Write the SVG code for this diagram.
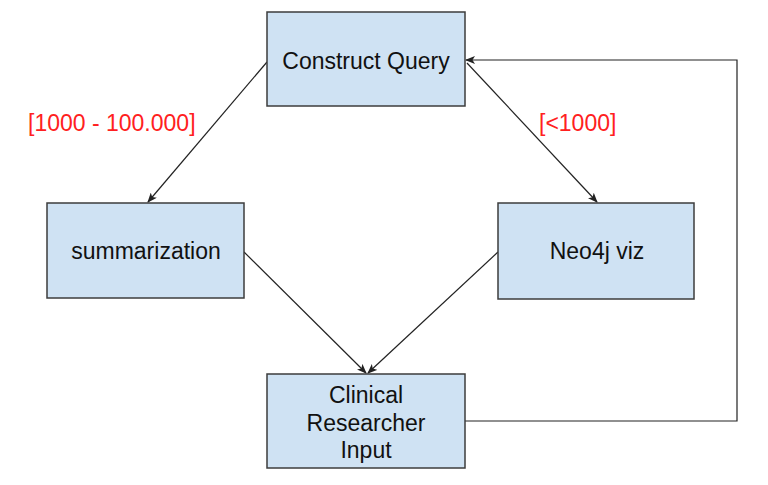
<svg xmlns="http://www.w3.org/2000/svg" width="768" height="485" viewBox="0 0 768 485">
<style>
.box{fill:#cfe2f3;stroke:#3c3c3c;stroke-width:1.5}
.t{font-family:"Liberation Sans",Arial,sans-serif;font-size:23px;fill:#111;text-anchor:middle}
.lbl{font-family:"Liberation Sans",Arial,sans-serif;font-size:23px;fill:#ff2020}
.c{fill:none;stroke:#222;stroke-width:1.2;marker-end:url(#ah)}
</style>
<defs>
<marker id="ah" markerWidth="10" markerHeight="8" refX="9" refY="4" orient="auto" markerUnits="userSpaceOnUse">
<path d="M0,0 L10,4 L0,8 L2.5,4 Z" fill="#222"/>
</marker>
</defs>
<rect width="768" height="485" fill="#fff"/>
<g id="connectors">
<line class="c" x1="267" y1="62" x2="148" y2="202"/>
<line class="c" x1="467" y1="63" x2="597" y2="202"/>
<line class="c" x1="244" y1="252" x2="366" y2="373"/>
<line class="c" x1="498" y1="252" x2="368" y2="373"/>
<polyline class="c" points="465,421 737,421 737,60 466,60"/>
</g>
<g id="lbl1"><text class="lbl" x="28" y="131">[1000 - 100.000]</text></g>
<g id="lbl2"><text class="lbl" x="539" y="131">[&lt;1000]</text></g>
<g id="construct-query">
<rect class="box" x="267" y="12" width="198" height="94"/>
<text class="t" x="366" y="69">Construct Query</text>
</g>
<g id="summarization">
<rect class="box" x="47" y="203" width="197" height="95"/>
<text class="t" x="146" y="259">summarization</text>
</g>
<g id="neo4j-viz">
<rect class="box" x="498" y="203" width="196" height="96"/>
<text class="t" x="597" y="259">Neo4j viz</text>
</g>
<g id="clinical-researcher-input">
<rect class="box" x="267" y="374" width="198" height="94"/>
<text class="t" x="366" y="403">Clinical</text>
<text class="t" x="366" y="431">Researcher</text>
<text class="t" x="366" y="458">Input</text>
</g>
</svg>
